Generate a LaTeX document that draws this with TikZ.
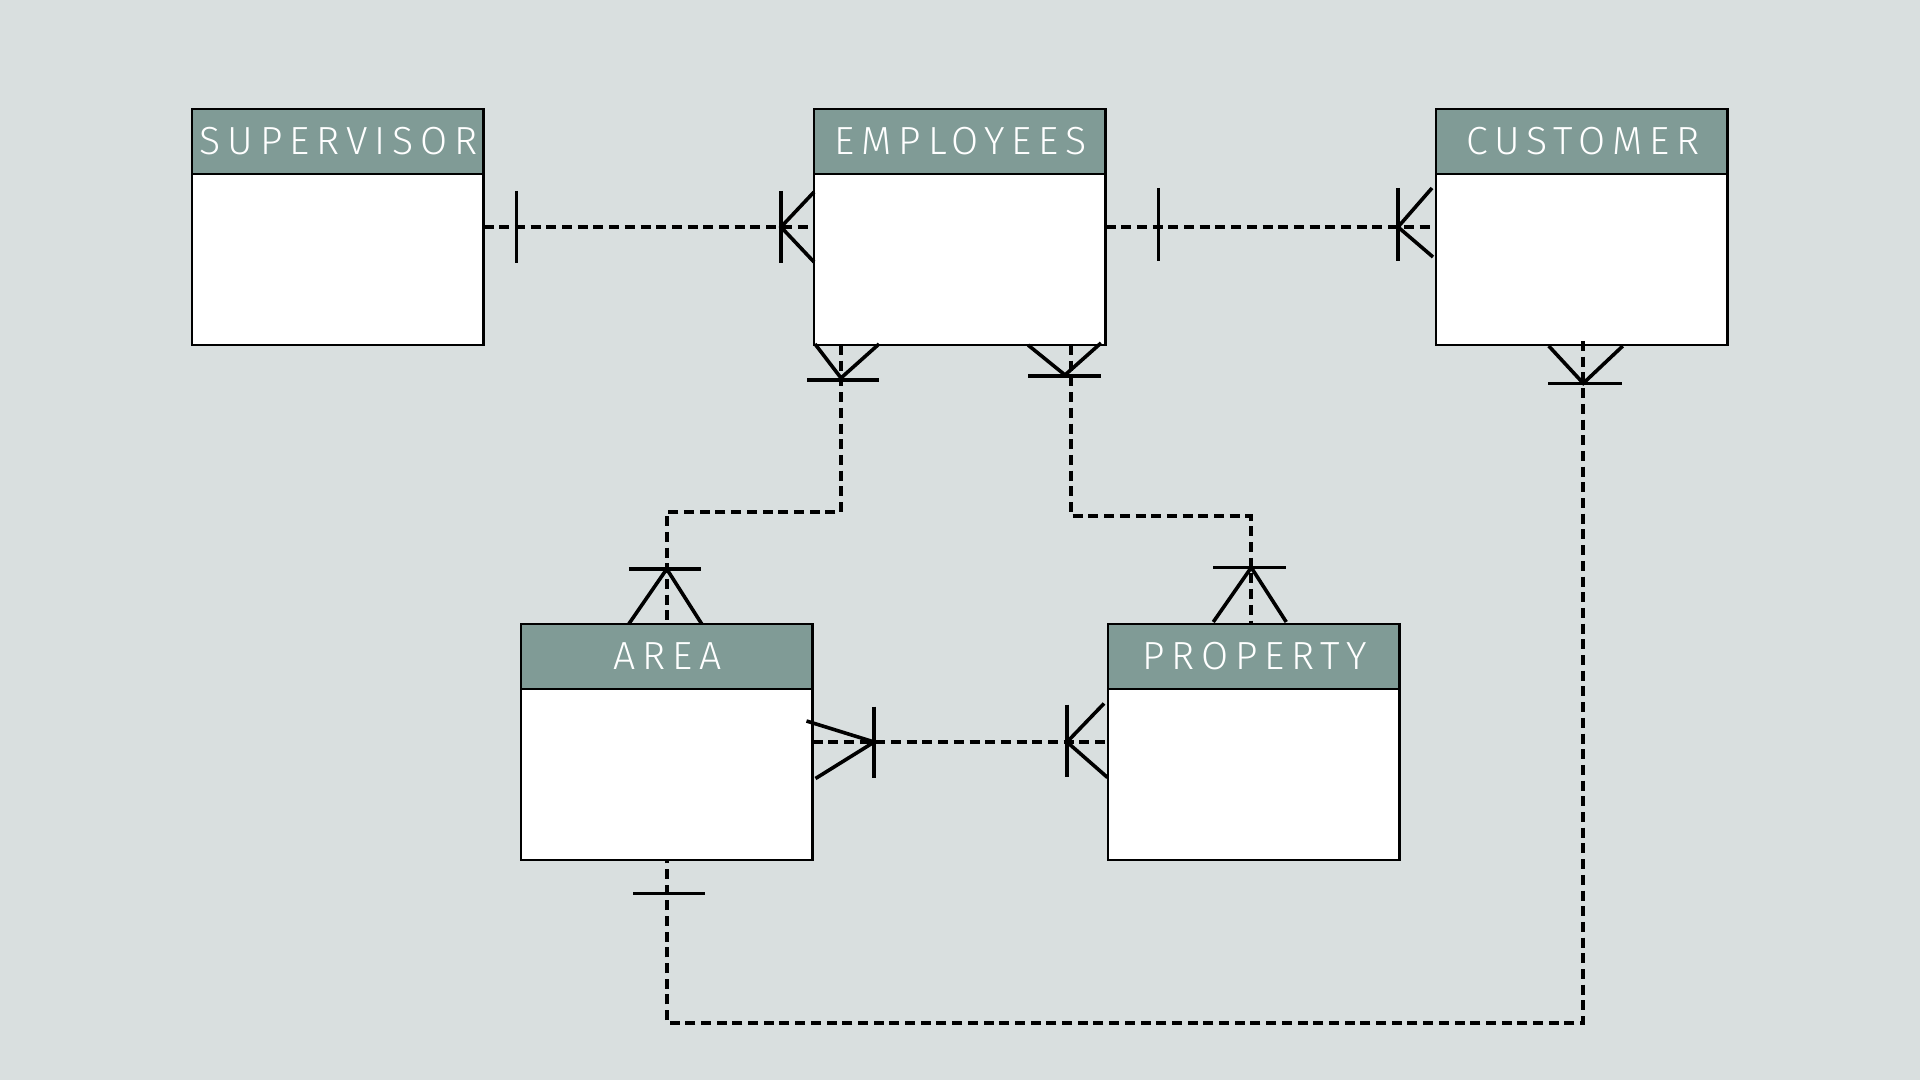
\documentclass[tikz,border=0pt]{standalone}
\usepackage{fontspec}
\usetikzlibrary{calc}
\newfontfamily\headfont{Fira Sans Light}[LetterSpace=17.5]
\definecolor{bgc}{RGB}{217,223,223}
\definecolor{headc}{RGB}{128,155,150}
\tikzset{
  entity/.style={draw=black, line width=1.4pt, fill=white, minimum width=145.75pt, minimum height=118pt, inner sep=0pt, outer sep=0pt, anchor=north west},
  header/.style={draw=black, line width=1.4pt, fill=headc, minimum width=145.75pt, minimum height=32.5pt, inner sep=0pt, outer sep=0pt, anchor=north, text=white, font=\headfont\fontsize{19.6pt}{20pt}\selectfont},
  conn/.style={line width=1.9pt, dash pattern=on 5pt off 2.85pt},
  foot/.style={line width=1.8pt},
}
\newcommand\hdr[1]{#1\kern-0.175em\kern2.5pt}
\begin{document}
\begin{tikzpicture}[x=0.5pt,y=-0.5pt]
\fill[bgc] (0,0) rectangle (1920,1080);
\useasboundingbox (0,0) rectangle (1920,1080);
% entities
\node[entity] (sup) at (192,109) {};
\node[header] (suph) at (sup.north) {\hdr{SUPERVISOR}};
\node[entity] (emp) at (814,109) {};
\node[header] (emph) at (emp.north) {\hdr{EMPLOYEES}};
\node[entity] (cus) at (1436,109) {};
\node[header] (cush) at (cus.north) {\hdr{CUSTOMER}};
\node[entity] (area) at (521,624) {};
\node[header] (areah) at (area.north) {\hdr{AREA}};
\node[entity] (prop) at (1108,624) {};
\node[header] (proph) at (prop.north) {\hdr{PROPERTY}};
% SUPERVISOR -- EMPLOYEES
\draw[conn] (sup.east) -- (emp.west);
\draw[foot] ($(sup.east)+(33,-36)$) -- ($(sup.east)+(33,36)$);
\draw[foot] ($(emp.west)+(-33,-36)$) -- ($(emp.west)+(-33,36)$);
\draw[foot] ($(emp.west)+(0,-35)$) -- ($(emp.west)+(-33,0)$) -- ($(emp.west)+(0,35)$);
% EMPLOYEES -- CUSTOMER
\draw[conn] (emp.east) -- (cus.west);
\draw[foot] ($(emp.east)+(53,-39)$) -- ($(emp.east)+(53,34)$);
\draw[foot] ($(cus.west)+(-38,-39)$) -- ($(cus.west)+(-38,34)$);
\draw[foot] ($(cus.west)+(-4,-39)$) -- ($(cus.west)+(-38,0)$) -- ($(cus.west)+(-3,30)$);
% EMPLOYEES -- AREA
\draw[conn] ($(emp.south west)+(27,0)$) -- ++(0,167) -| (area.north);
\draw[foot] ($(emp.south west)+(1,-1)$) -- ($(emp.south west)+(27,33)$) -- ($(emp.south west)+(65,-1)$);
\draw[foot] ($(emp.south west)+(-7,35)$) -- ($(emp.south west)+(65,35)$);
\draw[foot] ($(area.north)+(-38,0)$) -- ($(area.north)+(0,-55)$) -- ($(area.north)+(35,0)$);
\draw[foot] ($(area.north)+(-38,-55)$) -- ($(area.north)+(34,-55)$);
% EMPLOYEES -- PROPERTY
\draw[conn] ($(emp.south west)+(257,0)$) -- ++(0,171) -| ($(prop.north)+(-3,0)$);
\draw[foot] ($(emp.south west)+(214,0)$) -- ($(emp.south west)+(251,30)$) -- ($(emp.south west)+(287,-2)$);
\draw[foot] ($(emp.south west)+(214,31)$) -- ($(emp.south west)+(287,31)$);
\draw[foot] ($(prop.north)+(-40.5,-2)$) -- ($(prop.north)+(-2.5,-56.5)$) -- ($(prop.north)+(32.5,-2)$);
\draw[foot] ($(prop.north)+(-40.5,-56.5)$) -- ($(prop.north)+(32,-56.5)$);
% CUSTOMER -- AREA
\draw[conn] ($(cus.south)+(1.5,-4)$) -- ($(cus.south)+(1.5,678)$) -| (area.south);
\draw[foot] ($(cus.south)+(-33,1)$) -- ($(cus.south)+(1.5,38.3)$) -- ($(cus.south)+(41,1)$);
\draw[foot] ($(cus.south)+(-33.5,38.3)$) -- ($(cus.south)+(40.5,38.3)$);
\draw[foot] ($(area.south)+(-33.5,33.3)$) -- ($(area.south)+(38.5,33.3)$);
% AREA -- PROPERTY
\draw[conn] (area.east) -- (prop.west);
\draw[foot] ($(area.east)+(-6,-21)$) -- ($(area.east)+(61.7,0)$) -- ($(area.east)+(3,36.5)$);
\draw[foot] ($(area.east)+(61.7,-35.5)$) -- ($(area.east)+(61.7,36)$);
\draw[foot] ($(prop.west)+(-41,-37.5)$) -- ($(prop.west)+(-41,34.5)$);
\draw[foot] ($(prop.west)+(-4,-38.5)$) -- ($(prop.west)+(-41,0)$) -- ($(prop.west)+(-0.5,35.5)$);
\end{tikzpicture}
\end{document}
